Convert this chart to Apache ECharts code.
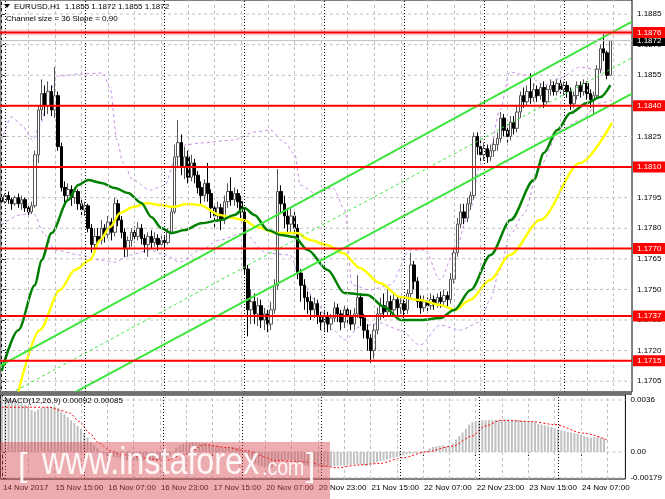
<!DOCTYPE html>
<html><head><meta charset="utf-8">
<script src="https://cdn.jsdelivr.net/npm/echarts@6/dist/echarts.min.js"></script>
<style>html,body{margin:0;padding:0;background:#fff}#c{width:665px;height:499px}</style>
</head><body><div id="c"></div>
<script>
// ---------- data ----------
const totalSlots = 190;
const timeLabels = ['14 Nov 2017','15 Nov 15:00','16 Nov 07:00','16 Nov 23:00','17 Nov 15:00','20 Nov 07:00','20 Nov 23:00','21 Nov 15:00','22 Nov 07:00','22 Nov 23:00','23 Nov 15:00','24 Nov 07:00'];
const barsPerLabel = 16;
const barsPerGrid = 8;
const daySeparators = [1,25,49,73,97,121,145,169];
const priceTicks = [1.1705,1.1720,1.1735,1.1750,1.1765,1.1780,1.1795,1.1810,1.1825,1.1840,1.1855,1.1870,1.1885];
const priceMin = 1.16997, priceMax = 1.18919;
const levels = [1.1876,1.1840,1.1810,1.1770,1.1737,1.1715];
const lastPrice = 1.1872;
const macdTicks = [0.0036, 0, -0.00179];
const macdTickLabels = ['0.0036','0.00','-0.00179'];
const macdMin = -0.001875, macdMax = 0.003947;
const headerText = 'EURUSD,H1  1.1855 1.1872 1.1855 1.1872';
const channelText = 'Channel size = 36 Slope = 0,90';
const macdText = 'MACD(12,26,9) 0.00092 0.00085';

// [open, close, low, high]
const candles = [
[1.1795,1.1793,1.1791,1.1797],[1.1793,1.1796,1.1792,1.1797],[1.1796,1.1794,1.1792,1.1798],[1.1794,1.1792,1.1789,1.1795],
[1.1792,1.1795,1.1791,1.1796],[1.1795,1.1792,1.1790,1.1797],[1.1792,1.1794,1.1789,1.1796],[1.1794,1.1790,1.1788,1.1795],
[1.1790,1.1788,1.1786,1.1792],[1.1788,1.1791,1.1787,1.1793],[1.1791,1.1816,1.1790,1.1818],[1.1816,1.1838,1.1812,1.1840],
[1.1838,1.1846,1.1833,1.1853],[1.1846,1.1840,1.1835,1.1850],[1.1840,1.1847,1.1836,1.1852],[1.1847,1.1838,1.1835,1.1850],
[1.1838,1.1845,1.1834,1.1859],[1.1845,1.1820,1.1818,1.1847],[1.1820,1.1800,1.1798,1.1822],[1.1800,1.1796,1.1792,1.1803],
[1.1796,1.1799,1.1793,1.1802],[1.1799,1.1795,1.1791,1.1801],[1.1795,1.1798,1.1792,1.1800],[1.1798,1.1792,1.1789,1.1799],
[1.1792,1.1789,1.1786,1.1794],[1.1789,1.1791,1.1786,1.1793],[1.1791,1.1780,1.1778,1.1792],[1.1780,1.1772,1.1768,1.1782],
[1.1772,1.1776,1.1770,1.1780],[1.1776,1.1774,1.1771,1.1780],[1.1774,1.1780,1.1772,1.1784],[1.1780,1.1777,1.1773,1.1782],
[1.1777,1.1783,1.1775,1.1786],[1.1783,1.1778,1.1774,1.1785],[1.1778,1.1792,1.1776,1.1795],[1.1792,1.1784,1.1781,1.1794],
[1.1784,1.1778,1.1775,1.1786],[1.1778,1.1770,1.1766,1.1780],[1.1770,1.1774,1.1766,1.1776],[1.1774,1.1778,1.1771,1.1780],
[1.1778,1.1776,1.1773,1.1781],[1.1776,1.1780,1.1774,1.1783],[1.1780,1.1775,1.1772,1.1782],[1.1775,1.1772,1.1768,1.1777],
[1.1772,1.1776,1.1766,1.1778],[1.1776,1.1773,1.1770,1.1779],[1.1773,1.1775,1.1771,1.1778],[1.1775,1.1772,1.1769,1.1777],
[1.1772,1.1774,1.1770,1.1777],[1.1774,1.1773,1.1770,1.1776],[1.1773,1.1778,1.1772,1.1780],[1.1778,1.1788,1.1777,1.1790],
[1.1788,1.1815,1.1787,1.1821],[1.1815,1.1822,1.1810,1.1833],[1.1822,1.1810,1.1806,1.1826],[1.1810,1.1815,1.1804,1.1820],
[1.1815,1.1805,1.1802,1.1818],[1.1805,1.1812,1.1803,1.1816],[1.1812,1.1806,1.1802,1.1814],[1.1806,1.1800,1.1797,1.1808],
[1.1800,1.1796,1.1792,1.1803],[1.1796,1.1802,1.1793,1.1804],[1.1802,1.1797,1.1793,1.1812],[1.1797,1.1790,1.1785,1.1799],
[1.1790,1.1786,1.1780,1.1792],[1.1786,1.1790,1.1783,1.1793],[1.1790,1.1784,1.1779,1.1792],[1.1784,1.1793,1.1782,1.1796],
[1.1793,1.1798,1.1790,1.1802],[1.1798,1.1794,1.1791,1.1805],[1.1794,1.1797,1.1791,1.1800],[1.1797,1.1793,1.1790,1.1799],
[1.1793,1.1788,1.1785,1.1796],[1.1788,1.1760,1.1757,1.1790],[1.1760,1.1740,1.1727,1.1762],[1.1740,1.1744,1.1733,1.1750],
[1.1744,1.1738,1.1733,1.1748],[1.1738,1.1742,1.1732,1.1746],[1.1742,1.1735,1.1731,1.1745],[1.1735,1.1738,1.1730,1.1741],
[1.1738,1.1733,1.1729,1.1740],[1.1733,1.1740,1.1730,1.1744],[1.1740,1.1752,1.1738,1.1755],[1.1752,1.1798,1.1750,1.1809],
[1.1798,1.1792,1.1787,1.1801],[1.1792,1.1786,1.1780,1.1796],[1.1786,1.1782,1.1778,1.1790],[1.1782,1.1786,1.1778,1.1790],
[1.1786,1.1780,1.1777,1.1788],[1.1780,1.1758,1.1755,1.1782],[1.1758,1.1752,1.1744,1.1760],[1.1752,1.1746,1.1740,1.1755],
[1.1746,1.1744,1.1738,1.1749],[1.1744,1.1740,1.1735,1.1747],[1.1740,1.1743,1.1736,1.1746],[1.1743,1.1737,1.1733,1.1745],
[1.1737,1.1734,1.1730,1.1739],[1.1734,1.1737,1.1729,1.1740],[1.1737,1.1733,1.1729,1.1739],[1.1733,1.1736,1.1730,1.1738],
[1.1736,1.1741,1.1734,1.1744],[1.1741,1.1738,1.1734,1.1743],[1.1738,1.1734,1.1730,1.1740],[1.1734,1.1740,1.1731,1.1742],
[1.1740,1.1737,1.1732,1.1742],[1.1737,1.1733,1.1730,1.1740],[1.1733,1.1738,1.1730,1.1741],[1.1738,1.1746,1.1736,1.1757],
[1.1746,1.1736,1.1732,1.1748],[1.1736,1.1730,1.1726,1.1738],[1.1730,1.1726,1.1720,1.1733],[1.1726,1.1720,1.1714,1.1728],
[1.1720,1.1730,1.1716,1.1733],[1.1730,1.1738,1.1728,1.1741],[1.1738,1.1742,1.1735,1.1746],[1.1742,1.1739,1.1736,1.1748],
[1.1739,1.1744,1.1737,1.1750],[1.1744,1.1740,1.1737,1.1747],[1.1740,1.1745,1.1738,1.1748],[1.1745,1.1741,1.1737,1.1747],
[1.1741,1.1743,1.1738,1.1746],[1.1743,1.1740,1.1736,1.1745],[1.1740,1.1748,1.1738,1.1750],[1.1748,1.1762,1.1746,1.1768],
[1.1762,1.1754,1.1750,1.1764],[1.1754,1.1744,1.1741,1.1756],[1.1744,1.1741,1.1738,1.1747],[1.1741,1.1744,1.1739,1.1747],
[1.1744,1.1742,1.1739,1.1746],[1.1742,1.1745,1.1740,1.1748],[1.1745,1.1743,1.1740,1.1747],[1.1743,1.1746,1.1741,1.1748],
[1.1746,1.1744,1.1741,1.1749],[1.1744,1.1747,1.1742,1.1750],[1.1747,1.1745,1.1741,1.1749],[1.1745,1.1755,1.1743,1.1758],
[1.1755,1.1768,1.1753,1.1770],[1.1768,1.1782,1.1766,1.1785],[1.1782,1.1788,1.1780,1.1792],[1.1788,1.1785,1.1782,1.1792],
[1.1785,1.1792,1.1783,1.1795],[1.1792,1.1796,1.1789,1.1798],[1.1796,1.1825,1.1794,1.1827],[1.1825,1.1820,1.1816,1.1827],
[1.1820,1.1816,1.1813,1.1823],[1.1816,1.1819,1.1813,1.1822],[1.1819,1.1815,1.1812,1.1821],[1.1815,1.1818,1.1813,1.1821],
[1.1818,1.1821,1.1815,1.1824],[1.1821,1.1824,1.1818,1.1827],[1.1824,1.1834,1.1822,1.1837],[1.1834,1.1828,1.1825,1.1836],
[1.1828,1.1825,1.1822,1.1831],[1.1825,1.1832,1.1823,1.1835],[1.1832,1.1829,1.1826,1.1835],[1.1829,1.1837,1.1827,1.1840],
[1.1837,1.1845,1.1834,1.1847],[1.1845,1.1842,1.1839,1.1849],[1.1842,1.1847,1.1840,1.1850],[1.1847,1.1844,1.1841,1.1856],
[1.1844,1.1848,1.1842,1.1851],[1.1848,1.1845,1.1842,1.1850],[1.1845,1.1849,1.1843,1.1851],[1.1849,1.1842,1.1839,1.1852],
[1.1842,1.1848,1.1841,1.1850],[1.1848,1.1850,1.1845,1.1853],[1.1850,1.1847,1.1845,1.1852],[1.1847,1.1851,1.1845,1.1853],
[1.1851,1.1848,1.1846,1.1853],[1.1848,1.1850,1.1845,1.1852],[1.1850,1.1847,1.1844,1.1852],[1.1847,1.1841,1.1838,1.1849],
[1.1841,1.1845,1.1839,1.1847],[1.1845,1.1850,1.1843,1.1852],[1.1850,1.1847,1.1844,1.1852],[1.1847,1.1851,1.1845,1.1853],
[1.1851,1.1846,1.1843,1.1852],[1.1846,1.1843,1.1839,1.1848],[1.1843,1.1845,1.1836,1.1847],[1.1845,1.1858,1.1844,1.1860],
[1.1858,1.1868,1.1856,1.1870],[1.1868,1.1866,1.1862,1.1875],[1.1866,1.1855,1.1853,1.1867],[1.1855,1.1872,1.1855,1.1872]
];

// moving averages [bar, price]
const maGreen = [[0,1.1710],[5,1.1730],[10,1.1752],[12,1.17644],[15,1.17776],[20,1.17938],[23,1.18012],[26,1.18036],[30,1.18022],[34,1.17997],[38,1.17973],[42,1.17924],[45,1.17855],[48,1.17801],[51,1.17776],[55,1.17791],[60,1.17825],[66,1.1784],[70,1.17865],[73,1.17899],[76,1.17865],[80,1.17791],[84,1.17767],[88,1.17757],[92,1.17693],[98,1.17595],[103,1.17482],[110,1.17473],[115,1.17414],[120,1.1735],[126,1.1735],[132,1.1736],[136,1.17399],[141,1.17497],[147,1.17669],[153,1.1784],[160,1.18036],[163,1.18169],[167,1.18281],[171,1.18365],[176,1.18414],[180,1.18443],[183,1.18502]];
const maYellow = [[5,1.16997],[11.5,1.17301],[17.5,1.17497],[22,1.17595],[26.6,1.17644],[29.6,1.17742],[32.6,1.17806],[35.6,1.17875],[39.5,1.17904],[43.7,1.17924],[47.6,1.17914],[51.5,1.17904],[55.7,1.17919],[59.6,1.17914],[65.6,1.17865],[69.6,1.1785],[72.6,1.1784],[76.8,1.17806],[82.8,1.17776],[88.8,1.17776],[92.7,1.17742],[97.8,1.17718],[102.6,1.17678],[107.7,1.17605],[113.8,1.17531],[119.8,1.17463],[125.8,1.17448],[131.8,1.17424],[136.3,1.17399],[140.8,1.17448],[146.8,1.17546],[152.8,1.17669],[161.9,1.1784],[173.9,1.1812],[183.5,1.18316]];
// envelope bands
const bandUpper = [[0,1.18232],[3,1.18345],[6,1.18306],[9.4,1.18232],[11.5,1.18306],[14.5,1.18477],[17,1.18546],[23.6,1.18556],[30.5,1.18561],[32.6,1.18487],[34.7,1.18232],[36.5,1.1812],[39.5,1.18036],[44.6,1.17987],[49.1,1.18012],[52.1,1.18134],[55.1,1.18208],[59.6,1.18218],[69.6,1.18232],[76.2,1.18272],[80.7,1.18281],[85.2,1.18218],[88.2,1.18159],[89.7,1.18012],[94.2,1.17973],[99.6,1.17997],[103.2,1.17889],[105.3,1.17522],[110.7,1.17497],[116.8,1.17522],[122.8,1.17693],[127.3,1.17693],[131.8,1.17546],[136.3,1.17693],[140.8,1.17889],[143.8,1.1811],[146.8,1.18183],[149.8,1.18379],[152.8,1.18566],[157.4,1.18551],[163.4,1.18502],[167.9,1.18536],[173.9,1.1859],[179.9,1.18575],[183.5,1.18566]];
const bandLower = [[0,1.17816],[5.5,1.17865],[9.4,1.17875],[13,1.17767],[16,1.17693],[23.6,1.17669],[29.6,1.17644],[34,1.17634],[38.6,1.17669],[44.6,1.17693],[49.1,1.17669],[53.6,1.17634],[59.6,1.17693],[65.6,1.17742],[72.6,1.17776],[79.8,1.17678],[86.7,1.17669],[89.7,1.17561],[94.2,1.17448],[99.6,1.17301],[103.2,1.17252],[107.7,1.17316],[113.8,1.17335],[119.8,1.17301],[125.8,1.17227],[131.8,1.17325],[138,1.17301],[143.8,1.1734],[146.8,1.17448],[149.8,1.17595],[152.8,1.17767],[156.8,1.17865],[161.9,1.1811],[167.9,1.18281],[173.9,1.1833],[179.9,1.18414],[183.5,1.18428]];
// regression channel
const channelUpper = [[-0.5,1.17125],[189.5,1.18813]];
const channelMid = [[-0.5,1.16962],[189.5,1.18636]];
const channelLower = [[-0.5,1.16799],[189.5,1.18460]];

// MACD histogram per bar
const macdHist = [
0.00385,0.0038,0.0037,0.0036,0.0035,0.00345,0.00335,0.00325,0.0031,0.0029,0.0028,0.00295,0.00305,0.0031,0.00312,0.00312,0.00313,0.00305,0.0028,0.0026,
0.0024,0.0022,0.002,0.0018,0.0016,0.0013,0.001,0.0007,0.00045,0.00025,0.00005,-0.0001,-0.00025,-0.00035,-0.00035,-0.0004,-0.00045,-0.00055,-0.0006,-0.0006,
-0.0006,-0.00058,-0.00058,-0.0006,-0.0006,-0.0006,-0.00058,-0.00058,-0.00055,-0.0005,-0.0004,-0.00025,0.00005,0.0003,0.00045,0.00055,0.0006,0.00065,0.00068,0.00066,
0.00062,0.0006,0.00058,0.00052,0.00045,0.0004,0.00035,0.00032,0.00034,0.00035,0.00035,0.0003,0.00025,0.00005,-0.0002,-0.00045,-0.00065,-0.0008,-0.00092,-0.001,
-0.00108,-0.00112,-0.00108,-0.0008,-0.00065,-0.00058,-0.00055,-0.00055,-0.00055,-0.00065,-0.00075,-0.00085,-0.00092,-0.00098,-0.001,-0.00102,-0.00104,-0.00104,-0.00104,-0.00102,
-0.001,-0.00098,-0.00096,-0.00095,-0.00094,-0.00092,-0.0009,-0.00085,-0.00085,-0.00088,-0.00092,-0.00096,-0.0009,-0.0008,-0.00072,-0.00065,-0.00058,-0.00052,-0.00046,-0.0004,
-0.00035,-0.0003,-0.00025,-0.00015,-0.00012,-0.0001,-0.00008,-0.00006,-0.00002,0.0001,0.00025,0.00035,0.0004,0.00042,0.00045,0.0004,0.00045,0.0006,0.00085,0.0011,
0.00135,0.0016,0.0019,0.00205,0.00215,0.00218,0.0022,0.0022,0.00222,0.0022,0.00222,0.00222,0.0022,0.00222,0.0022,0.0022,0.00222,0.0022,0.00218,0.00215,
0.00215,0.0021,0.00205,0.00195,0.0019,0.00185,0.00178,0.00172,0.00165,0.00155,0.0015,0.00145,0.0014,0.00135,0.0013,0.00125,0.00118,0.0011,0.00105,0.001,
0.00102,0.00105,0.001,0.00092
];
const macdSignal = [[0,0.0031],[5.5,0.0031],[14.5,0.0031],[17.5,0.0029],[20.5,0.0027],[23.6,0.0021],[26.6,0.0013],[29.6,0.0006],[32.6,0.0001],[36.5,-0.0002],[49.7,-0.0006],[55,-0.0002],[61.7,0.0005],[68.7,0.0003],[73.8,0.0001],[83.7,-0.0006],[92.7,-0.0007],[98.7,-0.001],[101.7,-0.0011],[108.6,-0.0009],[114.7,-0.0008],[121.9,-0.0004],[128.8,0],[136.9,0.0004],[142.9,0.0011],[146.8,0.0018],[151.9,0.0022],[161,0.0021],[167.9,0.0019],[176.9,0.0013],[183.8,0.00085]];

// ---------- chart ----------
const F = 'Liberation Sans';
const cats = Array.from({length: totalSlots}, (_, i) => i);
const gridCols = [];
for (let i = 0; i < totalSlots; i += barsPerGrid) gridCols.push(i);
const isLabelIdx = (i) => i % barsPerLabel === 0 && (i / barsPerLabel) < timeLabels.length;
const gridDash = {color:'#c0c0c0', type:[3,3], width:1};
const sepDash = {color:'#000', type:[1,2], width:1};
const vLines = (xIdx, yIdx, cols, style) => ({type:'line', xAxisIndex:xIdx, yAxisIndex:yIdx, data:[], z:1, silent:true,
  markLine:{symbol:'none', silent:true, animation:false, label:{show:false}, lineStyle:style, data:cols.map(c=>({xAxis:c}))}});
const hLine = (xIdx, yIdx, v, style, z, endLabel) => ({type:'line', xAxisIndex:xIdx, yAxisIndex:yIdx,
  data:[[-0.5,v],[totalSlots-0.5,v]], symbol:'none', silent:true, z, lineStyle:style,
  endLabel: endLabel ? Object.assign({show:true, distance:1, padding:[2,4,1,4], fontSize:8, fontFamily:F, formatter:()=>v.toFixed(4)}, endLabel) : {show:false}});

const series = [
  vLines(1,0,gridCols,gridDash),
  vLines(1,0,daySeparators,sepDash),
  vLines(3,1,gridCols,gridDash),
  vLines(3,1,daySeparators,sepDash)
];
priceTicks.forEach(v => series.push(hLine(1,0,v,gridDash,1)));
macdTicks.forEach(v => series.push(hLine(3,1,v,gridDash,1)));
series.push(
  {type:'line', xAxisIndex:1, yAxisIndex:0, data:bandUpper, symbol:'none', smooth:0.3, smoothMonotone:'x', z:2, silent:true, lineStyle:{color:'#c88ce6', width:1, type:[3,3]}},
  {type:'line', xAxisIndex:1, yAxisIndex:0, data:bandLower, symbol:'none', smooth:0.3, smoothMonotone:'x', z:2, silent:true, lineStyle:{color:'#c88ce6', width:1, type:[3,3]}},
  {type:'candlestick', xAxisIndex:0, yAxisIndex:0, data:candles, barWidth:3, z:3,
    itemStyle:{color:'#ffffff', color0:'#000000', borderColor:'#555555', borderColor0:'#000000', borderWidth:1}},
  {type:'line', xAxisIndex:1, yAxisIndex:0, data:maYellow, symbol:'none', smooth:0.3, smoothMonotone:'x', z:4, silent:true, lineStyle:{color:'#ffff00', width:2.5}},
  {type:'line', xAxisIndex:1, yAxisIndex:0, data:maGreen, symbol:'none', smooth:0.3, smoothMonotone:'x', z:4, silent:true, lineStyle:{color:'#008000', width:2.5}},
  {type:'line', xAxisIndex:1, yAxisIndex:0, data:channelUpper, symbol:'none', z:5, silent:true, lineStyle:{color:'#3ce63c', width:2}},
  {type:'line', xAxisIndex:1, yAxisIndex:0, data:channelLower, symbol:'none', z:5, silent:true, lineStyle:{color:'#3ce63c', width:2}},
  {type:'line', xAxisIndex:1, yAxisIndex:0, data:channelMid, symbol:'none', z:5, silent:true, lineStyle:{color:'#3ce63c', width:1, type:[3,3]}}
);
series.push(hLine(1,0,lastPrice,{color:'#c0c0c0', width:1}, 6, {color:'#fff', backgroundColor:'#000'}));
series.push(hLine(1,0,levels[0],{color:'rgba(255,120,120,0.35)', width:6}, 6));
levels.forEach(v => series.push(hLine(1,0,v,{color:'#ff0000', width:2}, 7, {color:'#fff', backgroundColor:'#ff0000'})));
series.push(
  {type:'bar', xAxisIndex:2, yAxisIndex:1, data:macdHist, barWidth:2, z:3, silent:true, itemStyle:{color:'#c0c0c0'}},
  {type:'line', xAxisIndex:3, yAxisIndex:1, data:macdSignal, symbol:'none', smooth:0.3, smoothMonotone:'x', z:4, silent:true, lineStyle:{color:'#ff0000', width:1, type:[2,2]}}
);

const option = {
  animation: false,
  backgroundColor: '#fff',
  grid: [
    {left:0, right:33, top:0, height:392, show:true, borderColor:'#000', borderWidth:1, backgroundColor:'#fff'},
    {left:0, right:33, top:395, height:84, show:true, borderColor:'#000', borderWidth:1, backgroundColor:'#fff'}
  ],
  xAxis: [
    {gridIndex:0, type:'category', data:cats, boundaryGap:true, axisLine:{show:false}, axisTick:{show:false}, axisLabel:{show:false}, splitLine:{show:false}},
    {gridIndex:0, type:'value', min:-0.5, max:totalSlots-0.5, show:false},
    {gridIndex:1, type:'category', data:cats, boundaryGap:true, axisLine:{show:false},
      axisTick:{show:true, alignWithLabel:true, interval:(i)=>isLabelIdx(i), length:4, lineStyle:{color:'#000'}},
      axisLabel:{interval:(i)=>isLabelIdx(i), formatter:(v,i)=> isLabelIdx(i) ? timeLabels[i/barsPerLabel] : '', align:'left', fontSize:8, fontFamily:F, color:'#000', margin:5, padding:[0,0,0,1]},
      splitLine:{show:false}},
    {gridIndex:1, type:'value', min:-0.5, max:totalSlots-0.5, show:false}
  ],
  yAxis: [
    {gridIndex:0, type:'value', position:'right', min:priceMin, max:priceMax, scale:true,
      axisLine:{show:true, lineStyle:{color:'#000'}},
      axisTick:{show:true, customValues:priceTicks, length:3, lineStyle:{color:'#000'}},
      axisLabel:{customValues:priceTicks, formatter:(v)=>Number(v).toFixed(4), fontSize:8, fontFamily:F, color:'#000', margin:5},
      splitLine:{show:false}},
    {gridIndex:1, type:'value', position:'right', min:macdMin, max:macdMax, scale:true,
      axisLine:{show:true, lineStyle:{color:'#000'}},
      axisTick:{show:true, customValues:macdTicks, length:3, lineStyle:{color:'#000'}},
      axisLabel:{customValues:macdTicks, formatter:(v)=>{const k=macdTicks.findIndex(t=>Math.abs(t-v)<1e-7); return k>=0?macdTickLabels[k]:'';}, fontSize:8, fontFamily:F, color:'#000', margin:5},
      splitLine:{show:false}}
  ],
  series,
  graphic: [
    {type:'rect', shape:{x:0, y:391.5, width:632, height:3.5}, style:{fill:'#707070'}, z:50},
    {type:'polygon', shape:{points:[[4,4],[10,4],[7,8]]}, style:{fill:'#000'}, z:50},
    {type:'text', x:14, y:7, style:{text:headerText, font:'8px "Liberation Sans"', fill:'#000', verticalAlign:'middle'}, z:50},
    {type:'text', x:6, y:19, style:{text:channelText, font:'8px "Liberation Sans"', fill:'#000', verticalAlign:'middle'}, z:50},
    {type:'text', x:5, y:401, style:{text:macdText, font:'8px "Liberation Sans"', fill:'#000', verticalAlign:'middle'}, z:50},
    {type:'rect', shape:{x:0, y:442, width:330, height:57}, style:{fill:'rgba(215,70,80,0.45)'}, z:100},
    {type:'text', x:18, y:467, style:{text:'[', font:'34px "Liberation Sans"', fill:'rgba(255,255,255,0.9)', verticalAlign:'middle'}, z:101},
    {type:'text', x:42, y:464, scaleX:0.85, style:{text:'www.instaforex', font:'38px "Liberation Sans"', fill:'rgba(255,255,255,0.9)', verticalAlign:'middle'}, z:101},
    {type:'text', x:262, y:469, scaleX:0.85, style:{text:'.com', font:'23px "Liberation Sans"', fill:'rgba(255,255,255,0.9)', verticalAlign:'middle'}, z:101},
    {type:'text', x:306, y:467, style:{text:']', font:'34px "Liberation Sans"', fill:'rgba(255,255,255,0.9)', verticalAlign:'middle'}, z:101}
  ]
};
const chart = echarts.init(document.getElementById('c'));
chart.setOption(option);
</script>
</body></html>
